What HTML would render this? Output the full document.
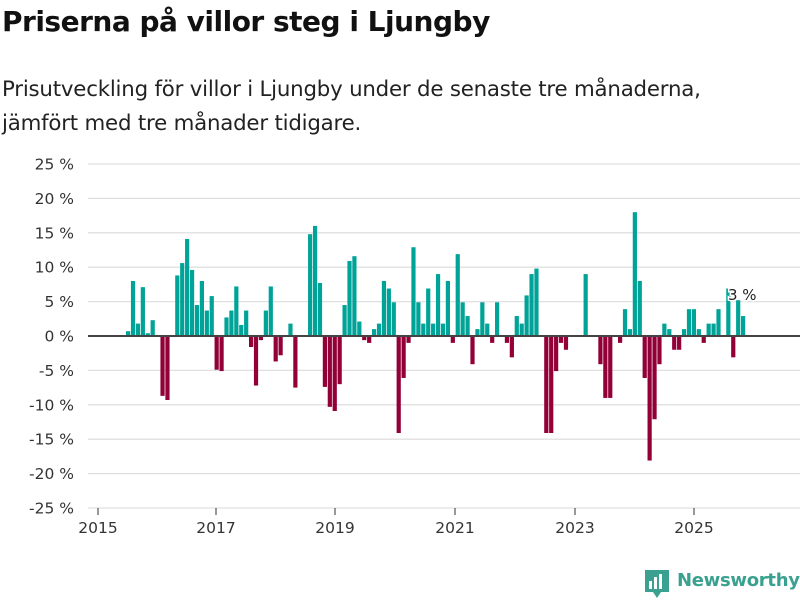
<!DOCTYPE html>
<html><head><meta charset="utf-8">
<style>
body{margin:0;background:#fff;font-family:"Liberation Sans","DejaVu Sans",sans-serif;}
#wrap{position:relative;width:800px;height:600px;overflow:hidden;}
h1{position:absolute;left:2px;top:5px;margin:0;font-size:28px;font-weight:bold;color:#111;font-family:"DejaVu Sans","Liberation Sans",sans-serif;letter-spacing:-0.5px}
.sub{position:absolute;left:2px;top:73px;margin:0;font-size:21.3px;line-height:34px;color:#222;font-family:"DejaVu Sans","Liberation Sans",sans-serif;letter-spacing:-0.2px}
</style></head><body>
<div id="wrap">
<h1>Priserna på villor steg i Ljungby</h1>
<p class="sub">Prisutveckling för villor i Ljungby under de senaste tre månaderna,<br>jämfört med tre månader tidigare.</p>
<svg id="chart" width="800" height="600" style="position:absolute;left:0;top:0"></svg>
</div>
<script>
const yTicks=[25,20,15,10,5,0,-5,-10,-15,-20,-25];
const yearLabels=["2015","2017","2019","2021","2023","2025"];
const yearTickX=[98,216,335,455,575,694];
const startMonth=6;
const values=[0.7,8.0,1.8,7.1,0.4,2.3,0,-8.7,-9.3,0,8.8,10.6,14.1,9.6,4.5,8.0,3.7,5.8,
-4.9,-5.1,2.7,3.7,7.2,1.6,3.7,-1.6,-7.2,-0.6,3.7,7.2,-3.7,-2.8,0,1.8,-7.5,0,0,
14.8,16.0,7.7,-7.4,-10.3,-10.9,-7.0,4.5,10.9,11.6,2.1,-0.6,-1.0,1.0,1.8,8.0,6.9,4.9,
-14.1,-6.1,-1.0,12.9,4.9,1.8,6.9,1.8,9.0,1.8,8.0,-1.0,11.9,4.9,2.9,-4.1,1.0,4.9,1.8,-1.0,4.9,0,-1.0,-3.1,
2.9,1.8,5.9,9.0,9.8,0,-14.1,-14.1,-5.1,-1.0,-2.0,0,0,0,9.0,0,0,-4.1,-9.0,-9.0,0,-1.0,3.9,1.0,18.0,8.0,
-6.1,-18.1,-12.1,-4.1,1.8,1.0,-2.0,-2.0,1.0,3.9,3.9,1.0,-1.0,1.8,1.8,3.9,0,6.9,-3.1,5.2,2.9];
const labelText="3 %";
const svg=document.getElementById('chart');
const NS="http://www.w3.org/2000/svg";
const y0=336,pxPer=6.88;
function yScale(v){return y0-v*pxPer;}
function xScale(m){return 126+(m-startMonth)*4.92;}
function mk(t,a){const e=document.createElementNS(NS,t);for(const k in a)e.setAttribute(k,a[k]);svg.appendChild(e);return e;}
yTicks.forEach(t=>{
  const g=mk('line',{x1:88,x2:800,y1:yScale(t),y2:yScale(t),stroke:'#e0e0e0','stroke-width':1.3});
  
  
  const tx=mk('text',{x:74,y:yScale(t)+5.5,'text-anchor':'end','font-size':15.5,fill:'#333','font-family':'DejaVu Sans, Liberation Sans, sans-serif'});
  tx.textContent=t+' %';
  
  
});
yearLabels.forEach((l,i)=>{
  const x=yearTickX[i];
  const tk=mk('line',{x1:x,x2:x,y1:508,y2:515,stroke:'#333','stroke-width':1});
  
  
  const tx=mk('text',{x:x,y:533,'text-anchor':'middle','font-size':15.5,fill:'#333','font-family':'DejaVu Sans, Liberation Sans, sans-serif'});
  tx.textContent=l;
  
  
});
values.forEach((v,i)=>{
  if(!v)return;
  const m=startMonth+i;
  const x=xScale(m);
  const y=v>0?yScale(v):y0;
  const r=mk('rect',{x:x,y:y,width:4.2,height:Math.abs(v)*pxPer,fill:v>0?'#00a398':'#930038'});
  
  
});
const zl=mk('line',{x1:88,x2:800,y1:y0,y2:y0,stroke:'#444','stroke-width':2});


const lastM=startMonth+values.length-1;
const lb=mk('text',{x:xScale(lastM)-13,y:yScale(values[values.length-1])-16,'font-size':15,fill:'#222',stroke:'#fff','stroke-width':3,'paint-order':'stroke','font-family':'DejaVu Sans, Liberation Sans, sans-serif'});
lb.textContent=labelText;


</script>
<svg width="26" height="30" style="position:absolute;left:644px;top:569px">
<path d="M1 1h24v22h-8l-4 6-4-6H1z" fill="#3aa08f"/>
<rect x="5" y="12" width="3" height="8" fill="#fff"/><rect x="10" y="8" width="3" height="12" fill="#fff"/><rect x="15" y="5" width="3" height="15" fill="#fff"/>
</svg>
<div style="position:absolute;left:677px;top:570px;font-size:18px;font-weight:bold;color:#3aa08f;font-family:'DejaVu Sans','Liberation Sans',sans-serif;letter-spacing:-0.3px">Newsworthy</div>
</body></html>
